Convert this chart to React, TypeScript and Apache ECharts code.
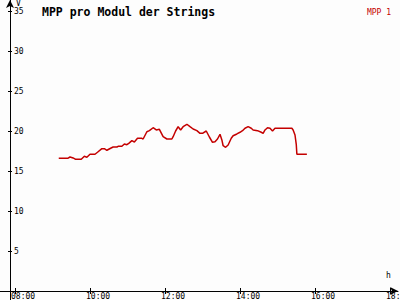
import React, { useEffect, useRef } from "react";
import * as echarts from "echarts";

const times = ["09:10","09:25","09:28","09:33","09:37","09:46","09:51","09:55","10:00","10:08","10:12","10:19","10:23","10:27","10:33","10:37","10:43","10:45","10:51","10:55","10:59","11:02","11:07","11:11","11:16","11:23","11:25","11:31","11:35","11:41","11:46","11:51","11:57","12:03","12:11","12:13","12:17","12:21","12:25","12:29","12:35","12:40","12:45","12:51","12:56","13:00","13:06","13:11","13:16","13:20","13:24","13:28","13:31","13:33","13:37","13:41","13:46","13:49","13:55","14:00","14:04","14:08","14:13","14:18","14:21","14:28","14:34","14:37","14:40","14:44","14:48","14:52","14:56","15:23","15:25","15:28","15:30","15:31","15:47"];
const values = [16.6,16.6,16.75,16.63,16.46,16.46,16.84,16.71,17.09,17.09,17.34,17.79,17.79,17.59,17.84,18.0,18.0,18.09,18.09,18.38,18.29,18.46,18.79,18.63,19.09,19.09,19.0,19.91,20.04,20.41,20.13,20.21,19.29,19.0,19.0,19.29,20.0,20.54,20.13,20.54,20.84,20.54,20.25,20.04,19.71,19.71,20.0,19.25,18.59,18.66,19.0,19.59,18.88,18.16,17.96,18.25,19.09,19.41,19.63,19.84,20.04,20.34,20.54,20.34,20.13,20.04,19.84,19.71,20.13,20.41,20.34,20.0,20.34,20.34,20.13,19.5,18.34,17.09,17.09];
const xTicks = [8, 10, 12, 14, 16, 18];
const yTicks = [5, 10, 15, 20, 25, 30, 35];
const seriesName = "MPP 1";
const titleText = "MPP pro Modul der Strings";

const toHours = (t: string) => {
  const [h, m] = t.split(":").map(Number);
  return h + m / 60;
};

const FONT = "DejaVu Sans Mono";
const RED = "#c40000";

export default function App() {
  const ref = useRef<HTMLDivElement>(null);
  useEffect(() => {
    const chart = echarts.init(ref.current!, null, { renderer: "svg" });
    const xMin = 7.6;
    const xMax = 7.6 + 398 / 37.5;
    const yMin = 0;
    const yMax = 36.375;
    const fmt = (v: number) => `${String(Math.round(v)).padStart(2, "0")}:00`;
    chart.setOption({
      animation: false,
      backgroundColor: "#fdfdfd",
      title: {
        text: titleText,
        left: 37,
        top: 1,
        textStyle: { fontFamily: FONT, fontSize: 11.5, fontWeight: "bold", color: "#000" },
      },
      legend: {
        right: 4,
        top: 0,
        icon: "none",
        itemWidth: 0,
        itemGap: 0,
        textStyle: { fontFamily: FONT, fontSize: 8, color: RED },
        data: [seriesName],
      },
      graphic: [
        { type: "line", shape: { x1: 10.5, y1: 291, x2: 10.5, y2: 300 }, style: { stroke: "#000", lineWidth: 1 } },
      ],
      grid: { left: 0, right: 2, top: 0, bottom: 9, outerBoundsMode: "none" },
      xAxis: [
        {
          type: "value",
          min: xMin,
          max: xMax,
          position: "bottom",
          name: "h",
          nameLocation: "end",
          nameGap: -12,
          nameTextStyle: { fontFamily: FONT, fontSize: 8, color: "#000", verticalAlign: "bottom", padding: [0, 0, 12, 0] },
          axisLine: { show: true, onZero: false, symbol: ["none", "arrow"], symbolSize: [6, 8], lineStyle: { color: "#000", width: 1 } },
          axisTick: { show: true, length: 3, customValues: xTicks, lineStyle: { color: "#000" } },
          axisLabel: {
            show: true,
            customValues: xTicks,
            formatter: fmt,
            fontFamily: FONT,
            fontSize: 8,
            lineHeight: 8,
            color: "#000",
            align: "left",
            verticalAlign: "top",
            margin: 1,
            padding: [0, 0, 0, -4],
          },
          splitLine: { show: false },
        },
        {
          type: "value",
          min: xMin,
          max: xMax,
          position: "top",
          offset: -291,
          axisLine: { show: false, onZero: false },
          axisTick: { show: true, length: 3, customValues: xTicks, lineStyle: { color: "#000" } },
          axisLabel: { show: false },
          splitLine: { show: false },
        },
      ],
      yAxis: [
        {
          type: "value",
          min: yMin,
          max: yMax,
          position: "left",
          offset: -10,
          name: "V",
          nameLocation: "end",
          nameGap: -7,
          nameTextStyle: { fontFamily: FONT, fontSize: 8, color: "#000", align: "left", padding: [0, 0, 0, 6] },
          axisLine: { show: true, onZero: false, symbol: ["none", "arrow"], symbolSize: [6, 8], lineStyle: { color: "#000", width: 1 } },
          axisTick: { show: true, length: 2, customValues: yTicks, lineStyle: { color: "#000" } },
          axisLabel: {
            show: true,
            inside: true,
            customValues: yTicks,
            fontFamily: FONT,
            fontSize: 8,
            color: "#000",
            margin: 4,
          },
          splitLine: { show: false },
        },
        {
          type: "value",
          min: yMin,
          max: yMax,
          position: "right",
          offset: -388,
          axisLine: { show: false, onZero: false },
          axisTick: { show: true, length: 2, customValues: yTicks, lineStyle: { color: "#000" } },
          axisLabel: { show: false },
          splitLine: { show: false },
        },
      ],
      series: [
        {
          name: seriesName,
          type: "line",
          xAxisIndex: 0,
          yAxisIndex: 0,
          symbol: "none",
          lineStyle: { color: RED, width: 1.5 },
          itemStyle: { color: RED },
          data: times.map((t, i) => [toHours(t), values[i]]),
        },
      ],
    });
    return () => chart.dispose();
  }, []);
  return <div ref={ref} style={{ width: 400, height: 300, position: "absolute", left: 0, top: 0 }} />;
}
